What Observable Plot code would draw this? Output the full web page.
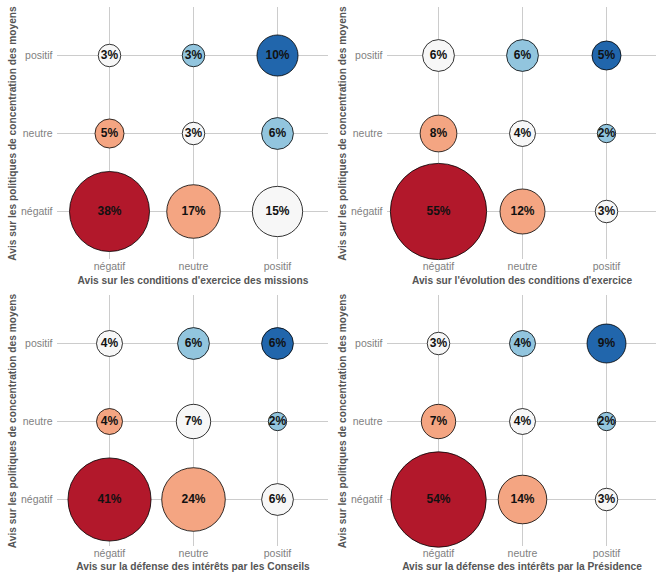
<!DOCTYPE html>
<html><head><meta charset="utf-8">
<script src="https://cdn.jsdelivr.net/npm/d3@7"></script>
<script src="https://cdn.jsdelivr.net/npm/@observablehq/plot@0.6"></script>
<style>
body{margin:0;background:#fff;font-family:"Liberation Sans",Arial,sans-serif;}
#grid{display:grid;grid-template-columns:330px 326px;grid-template-rows:287px 286px;width:656px;}
#grid svg{display:block;}
</style></head><body><div id="grid"></div>
<script>
const xCategories = ["négatif", "neutre", "positif"];
const yCategories = ["positif", "neutre", "négatif"];
const yTitle = "Avis sur les politiques de concentration des moyens";
const panelTitles = [
  "Avis sur les conditions d'exercice des missions",
  "Avis sur l'évolution des conditions d'exercice",
  "Avis sur la défense des intérêts par les Conseils",
  "Avis sur la défense des intérêts par la Présidence"
];
// row-major: y = positif, neutre, négatif ; x = négatif, neutre, positif
const values1 = [3, 3, 10, 5, 3, 6, 38, 17, 15];
const values2 = [6, 6, 5, 8, 4, 2, 55, 12, 3];
const values3 = [4, 6, 6, 4, 7, 2, 41, 24, 6];
const values4 = [3, 4, 9, 7, 4, 2, 54, 14, 3];
const scoreDomain = [-2, -1, 0, 1, 2];
const scoreColors = ["#B2182B", "#F4A582", "#F7F7F7", "#92C5DE", "#2166AC"];
const categoryScore = {"négatif": -1, "neutre": 0, "positif": 1};

const panels = [values1, values2, values3, values4];
const grid = document.getElementById("grid");

panels.forEach((vals, p) => {
  const data = vals.map((v, i) => {
    const y = yCategories[Math.floor(i / 3)];
    const x = xCategories[i % 3];
    return {x, y, v, score: categoryScore[x] + categoryScore[y]};
  });
  const left = p % 2 === 0;
  const top = p < 2;
  const chart = Plot.plot({
    width: left ? 330 : 326,
    height: top ? 287 : 286,
    marginLeft: 57,
    marginRight: left ? 2 : 0,
    marginTop: top ? 7 : 8,
    marginBottom: top ? 28 : 27,
    style: {fontFamily: "'Liberation Sans', Arial, sans-serif", fontSize: "10.5px", color: "#7f7f7f", background: "#fff"},
    x: {type: "point", domain: xCategories, padding: 0.6, label: null},
    y: {type: "point", domain: yCategories, padding: 0.6, label: null},
    r: {type: "sqrt", domain: [0, 38], range: [0, 40]},
    color: {type: "ordinal", domain: scoreDomain, range: scoreColors},
    marks: [
      Plot.gridX({stroke: "#cccccc", strokeOpacity: 1, strokeWidth: 1}),
      Plot.gridY({stroke: "#cccccc", strokeOpacity: 1, strokeWidth: 1}),
      Plot.axisX({tickSize: 0, tickPadding: 3, label: null}),
      Plot.axisY({tickSize: 0, tickPadding: 5, label: null}),
      Plot.dot(data, {x: "x", y: "y", r: "v", fill: "score", stroke: "black", strokeWidth: 0.8}),
      Plot.text(data, {x: "x", y: "y", text: d => d.v + "%", fontWeight: "bold", fontSize: 12, fill: "#111"}),
      Plot.text([panelTitles[p]], {text: d => d, frameAnchor: "bottom", lineAnchor: "middle", textAnchor: "middle", dy: top ? 21 : 20, fontWeight: "bold", fontSize: 10.2, fill: "#555"}),
      Plot.text([yTitle], {text: d => d, frameAnchor: "left", lineAnchor: "middle", textAnchor: "middle", dx: -45, rotate: -90, fontWeight: "bold", fontSize: 10.2, fill: "#555"})
    ]
  });
  grid.appendChild(chart);
});
</script>
</body></html>
